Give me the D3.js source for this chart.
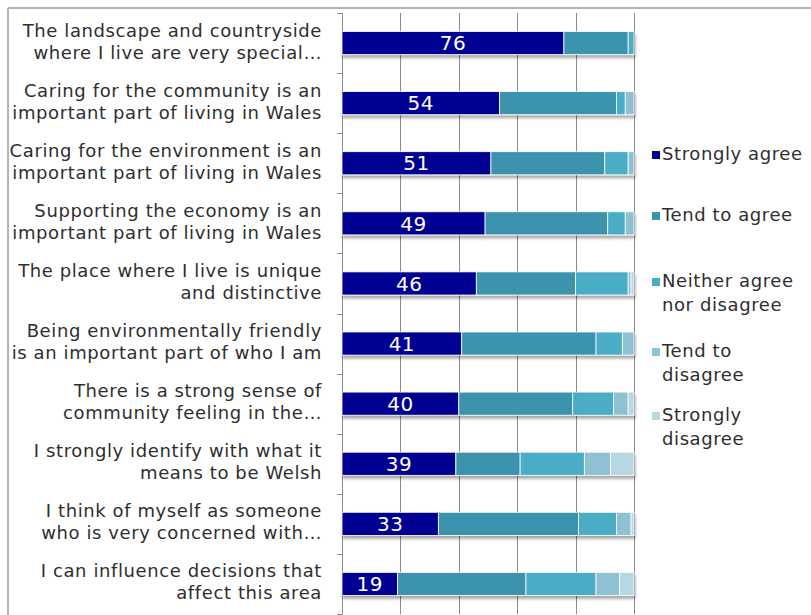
<!DOCTYPE html>
<html>
<head>
<meta charset="utf-8">
<script src="https://cdn.jsdelivr.net/npm/d3@7/dist/d3.min.js"></script>
<style>
  html, body { margin: 0; padding: 0; background: #fff; }
  svg { display: block; }
  text { font-family: "DejaVu Sans", sans-serif; }
</style>
</head>
<body>
<svg id="chart" width="811" height="615"></svg>
<script>
// Statement labels, each split into its two display lines
const statements = [
  ["The landscape and countryside", "where I live are very special\u2026"],
  ["Caring for the community is an", "important part of living in Wales"],
  ["Caring for the environment is an", "important part of living in Wales"],
  ["Supporting the economy is an", "important part of living in Wales"],
  ["The place where I live is unique", "and distinctive"],
  ["Being environmentally friendly", "is an important part of who I am"],
  ["There is a strong sense of", "community feeling in the\u2026"],
  ["I strongly identify with what it", "means to be Welsh"],
  ["I think of myself as someone", "who is very concerned with\u2026"],
  ["I can influence decisions that", "affect this area"]
];

// Response categories (stack order) and legend wording
const responses = ["Strongly agree", "Tend to agree", "Neither agree nor disagree", "Tend to disagree", "Strongly disagree"];
const legendLines = [["Strongly agree"], ["Tend to agree"], ["Neither agree", "nor disagree"], ["Tend to", "disagree"], ["Strongly", "disagree"]];
const responseColors = ["#000092", "#3a93ad", "#4bacc6", "#8ec2d3", "#b8d7e3"];

// Percentages per statement
const stronglyAgree    = [76, 54, 51, 49, 46, 41, 40, 39, 33, 19];
const tendToAgree      = [22, 40, 39, 42, 34, 46, 39, 22, 48, 44];
const neither          = [ 2,  3,  8,  6, 18,  9, 14, 22, 13, 24];
const tendToDisagree   = [ 0,  3,  2,  3,  1,  4,  5,  9,  5,  8];
const stronglyDisagree = [ 0,  0,  0,  0,  1,  0,  2,  8,  1,  5];

// Grid ticks on the percentage axis
const gridTicks = [20, 40, 60, 80, 100];

const seriesValues = [stronglyAgree, tendToAgree, neither, tendToDisagree, stronglyDisagree];
const rows = statements.map((s, i) => {
  const r = { idx: i };
  responses.forEach((k, j) => { r[k] = seriesValues[j][i]; });
  return r;
});

const svg = d3.select("#chart");

// Frame lines along the top and left edge
svg.append("line").attr("x1", 8).attr("x2", 811).attr("y1", 8).attr("y2", 8)
  .attr("stroke", "#b4b4b4").attr("stroke-width", 2);
svg.append("line").attr("x1", 8).attr("x2", 8).attr("y1", 8).attr("y2", 615)
  .attr("stroke", "#b4b4b4").attr("stroke-width", 2);

const plot = { left: 342, right: 634, top: 13, bottom: 614 };

const x = d3.scaleLinear().domain([0, 100]).range([plot.left, plot.right]);
const y = d3.scaleBand().domain(d3.range(statements.length)).range([plot.top, plot.bottom]);

// Drop shadow under the bars
const defs = svg.append("defs");
const f = defs.append("filter").attr("id", "barShadow")
  .attr("x", "-5%").attr("y", "-30%").attr("width", "110%").attr("height", "180%");
f.append("feDropShadow").attr("dx", 1).attr("dy", 3).attr("stdDeviation", 1.4)
  .attr("flood-color", "#000").attr("flood-opacity", 0.35);

// Vertical gridlines
svg.append("g").selectAll("line").data(gridTicks).join("line")
  .attr("x1", d => Math.round(x(d)) + 0.5).attr("x2", d => Math.round(x(d)) + 0.5)
  .attr("y1", plot.top).attr("y2", plot.bottom)
  .attr("stroke", "#8a8a8a").attr("stroke-width", 1);

// Category axis: line plus ticks at band boundaries
const boundaries = d3.range(statements.length + 1).map(i => plot.top + i * y.step());
const axisG = svg.append("g");
axisG.append("line")
  .attr("x1", plot.left + 0.5).attr("x2", plot.left + 0.5)
  .attr("y1", plot.top).attr("y2", plot.bottom)
  .attr("stroke", "#8a8a8a");
axisG.selectAll("line.tick").data(boundaries).join("line").attr("class", "tick")
  .attr("x1", plot.left - 5).attr("x2", plot.left + 0.5)
  .attr("y1", d => Math.round(d) + 0.5).attr("y2", d => Math.round(d) + 0.5)
  .attr("stroke", "#8a8a8a");

// Stacked bars
const stack = d3.stack().keys(responses);
const stacked = stack(rows);
const barH = y.bandwidth() * 0.385;
const barY = i => y(i) + (y.bandwidth() - barH) / 2;

const barsG = svg.append("g").attr("filter", "url(#barShadow)");
stacked.forEach((layer, j) => {
  barsG.append("g").selectAll("rect")
    .data(layer.filter(d => d[1] - d[0] > 0))
    .join("rect")
    .attr("x", d => x(d[0]))
    .attr("width", d => x(d[1]) - x(d[0]))
    .attr("y", d => barY(d.data.idx))
    .attr("height", barH)
    .attr("fill", responseColors[j])
    .attr("stroke", "#ffffff")
    .attr("stroke-width", 0.8);
});

// Value labels inside the "Strongly agree" segment
svg.append("g").selectAll("text").data(stacked[0]).join("text")
  .attr("x", d => (x(d[0]) + x(d[1])) / 2)
  .attr("y", d => y(d.data.idx) + y.bandwidth() / 2)
  .attr("dy", "0.36em")
  .attr("text-anchor", "middle")
  .attr("fill", "#ffffff")
  .attr("font-size", 20)
  .attr("letter-spacing", 0.5)
  .text(d => d.data[responses[0]]);

// Statement labels, right aligned against the axis
const lineGap = 22;
const labG = svg.append("g");
statements.forEach((lines, i) => {
  const cy = y(i) + y.bandwidth() / 2 - 2;
  const t = labG.append("text")
    .attr("text-anchor", "end")
    .attr("font-size", 18)
    .attr("letter-spacing", 0.6)
    .attr("fill", "#2e2e2e");
  lines.forEach((ln, k) => {
    t.append("tspan")
      .attr("x", 322)
      .attr("y", cy + (k - (lines.length - 1) / 2) * lineGap)
      .attr("dy", "0.36em")
      .text(ln);
  });
});

// Legend
const legendTops = [160, 221, 287, 357, 421];
const legG = svg.append("g");
legendLines.forEach((lines, j) => {
  const base = legendTops[j];
  legG.append("rect")
    .attr("x", 652).attr("y", base - 9).attr("width", 8).attr("height", 8)
    .attr("fill", responseColors[j]);
  const t = legG.append("text").attr("font-size", 18).attr("letter-spacing", 0.6).attr("fill", "#2e2e2e");
  lines.forEach((ln, k) => {
    t.append("tspan").attr("x", 662).attr("y", base + k * 24).text(ln);
  });
});
</script>
</body>
</html>
